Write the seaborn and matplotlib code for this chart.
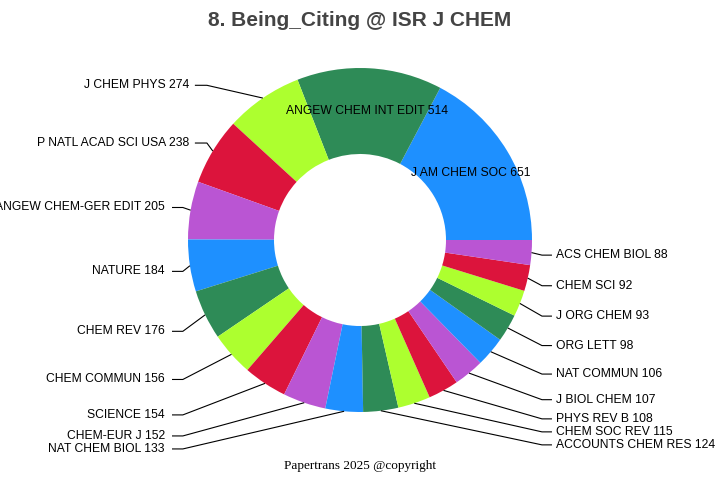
import numpy as np
import matplotlib
matplotlib.use("Agg")
import matplotlib.pyplot as plt
import seaborn as sns

# journals cited by ISR J CHEM and their counts
journals = ["J AM CHEM SOC", "ANGEW CHEM INT EDIT", "J CHEM PHYS", "P NATL ACAD SCI USA",
            "ANGEW CHEM-GER EDIT", "NATURE", "CHEM REV", "CHEM COMMUN", "SCIENCE",
            "CHEM-EUR J", "NAT CHEM BIOL", "ACCOUNTS CHEM RES", "CHEM SOC REV",
            "PHYS REV B", "J BIOL CHEM", "NAT COMMUN", "ORG LETT", "J ORG CHEM",
            "CHEM SCI", "ACS CHEM BIOL"]
counts = [651, 514, 274, 238, 205, 184, 176, 156, 154, 152,
          133, 124, 115, 108, 107, 106, 98, 93, 92, 88]
base_colors = ["dodgerblue", "seagreen", "greenyellow", "crimson", "mediumorchid"]

sns.set_theme(style="white")
plt.rcParams["font.family"] = ["Liberation Sans", "DejaVu Sans"]

palette = sns.color_palette(base_colors)
colors = [palette[i % len(palette)] for i in range(len(counts))]

fig = plt.figure(figsize=(7.2, 4.8), dpi=100)
ax = fig.add_axes([0, 0, 1, 1])

wedges, _ = ax.pie(counts, colors=colors, startangle=0, counterclock=True, radius=1.0,
                   wedgeprops=dict(width=0.5, edgecolor="none", linewidth=0))

# 1 data unit = 172 px, centre of the ring in the middle of the figure
scale = 172.0
ax.set_xlim(-360 / scale, 360 / scale)
ax.set_ylim(-240 / scale, 240 / scale)
ax.set_aspect("auto")
ax.axis("off")

total = float(sum(counts))
outside = {"left": [], "right": []}
for w, name, val in zip(wedges, journals, counts):
    mid = np.deg2rad((w.theta1 + w.theta2) / 2)
    c, s = np.cos(mid), np.sin(mid)
    label = f"{name} {val}"
    if val / total > 0.1:
        ax.text(0.75 * c, 0.75 * s, label, ha="center", va="center", fontsize=8.7, color="black")
        continue
    right = c > 0
    if s > 0:
        r_lab = 1.09
    else:
        r_lab = 1.2 if right else 1.22
    outside["right" if right else "left"].append([c, s, r_lab * s, label])

# push labels apart so they do not sit on top of each other
gap = 13 / scale
for side, items in outside.items():
    items.sort(key=lambda it: it[2])
    for i in range(1, len(items)):
        if items[i][2] < items[i - 1][2] + gap:
            items[i][2] = items[i - 1][2] + gap

    for c, s, y, label in items:
        if side == "right":
            xe, xl, xt, ha = 1.058, 1.116, 1.14, "left"
        elif s > 0.3:
            xe, xl, xt, ha = -0.89, -0.96, -0.99, "right"
        else:
            xe, xl, xt, ha = -1.03, -1.093, -1.134, "right"
        ax.plot([c, xe, xl], [s, y, y], color="black", lw=0.8, solid_capstyle="butt")
        ax.text(xt, y, label, ha=ha, va="center", fontsize=8.7, color="black")

fig.text(0.5, 1 - 25.7 / 480, "8. Being_Citing @ ISR J CHEM", ha="center", va="baseline",
         fontsize=15, fontweight="bold", color="#444444")
fig.text(0.5, 1 - 469 / 480, "Papertrans 2025 @copyright", ha="center", va="baseline",
         fontsize=9.5, color="black", family=["Liberation Serif", "DejaVu Serif"])

fig.savefig("out.png", dpi=100)
